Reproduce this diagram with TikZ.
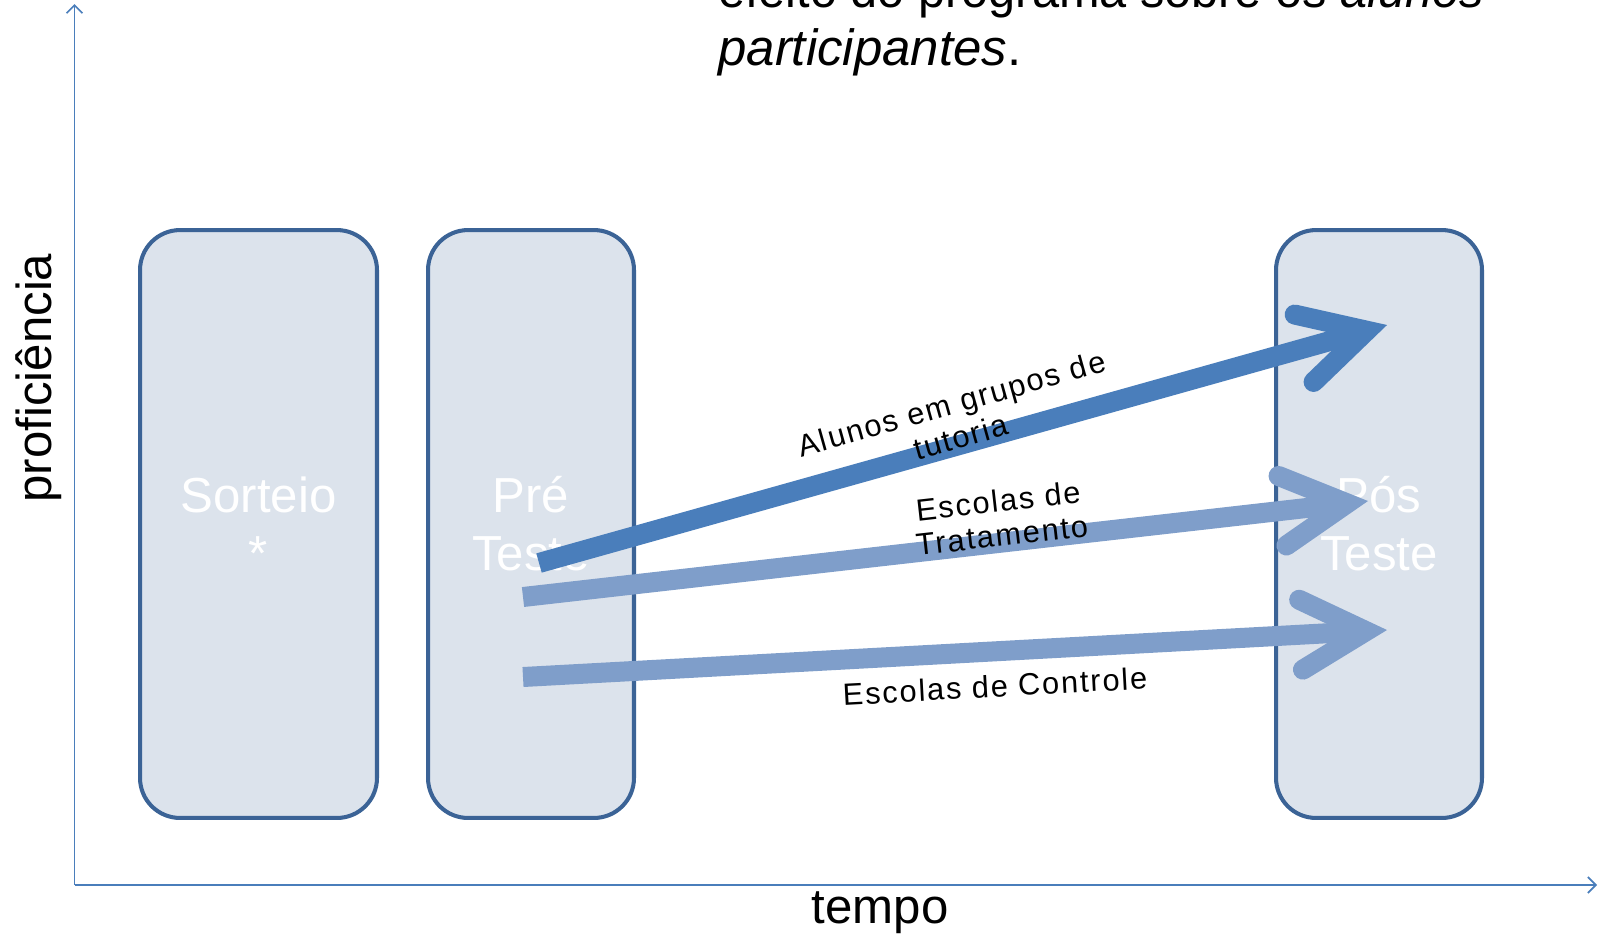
\documentclass[tikz,border=0pt]{standalone}
\usepackage{fontspec}
\setmainfont{Liberation Sans}
\usepackage{tikz}
\usetikzlibrary{arrows.meta}

\definecolor{boxline}{HTML}{3B6396}
\definecolor{boxfill}{HTML}{DCE3EC}
\definecolor{axisblue}{HTML}{4A7EBB}
\definecolor{mainblue}{HTML}{4A7EBB}
\definecolor{hatchblue}{HTML}{7F9ECA}

\begin{document}
\begin{tikzpicture}[x=0.02cm, y=-0.02cm,
    stagebox/.style={draw=boxline, fill=boxfill, line width=2.3pt, rounded corners=0.8cm,
      minimum width=4.12cm, minimum height=11.76cm, inner sep=0pt,
      text=white, align=center, font=\fontsize{28}{33}\selectfont},
    axisline/.style={draw=axisblue, line width=1pt, -{Straight Barb[length=4.5pt, width=9pt]}},
    bigarrow/.style={line width=0.4cm, -{Straight Barb[length=1.3cm, width=1.4cm, line cap=round, line join=miter]}},
    arrowlbl/.style={inner sep=0pt, align=center, font=\fontsize{17.5}{19.5}\selectfont\addfontfeatures{LetterSpace=6}},
    axislbl/.style={inner sep=0pt, font=\fontsize{28}{33}\selectfont},
    toptxt/.style={inner sep=0pt, anchor=base west, font=\fontsize{29}{33}\selectfont}]
    \useasboundingbox (0,0) rectangle (1598,937);

    \coordinate (origin) at (74.5,885);
    \coordinate (ytip) at (74.5,4);
    \coordinate (xtip) at (1597,885);
    \draw[axisline] (origin) -- (ytip);
    \draw[axisline] (origin) -- (xtip);
    \node[axislbl, rotate=90, anchor=base] (ylbl) at (51.7,378) {proficiência};
    \node[axislbl, anchor=base] (xlbl) at (880,923) {tempo};

    \node[toptxt, font=\fontsize{29}{33}\selectfont\addfontfeatures{FakeStretch=0.955}] (titlea) at (718,7) {efeito do programa sobre os \textit{alunos}};
    \node[toptxt] (titleb) at (718,65) {\textit{participantes}.};

    \node[stagebox, minimum width=4.74cm] (sorteio) at (258.5,524) {Sorteio\\*};
    \node[stagebox] (pre) at (531,524) {Pré\\Teste};
    \node[stagebox] (pos) at (1379,524) {Pós\\Teste};

    \coordinate (tratstart) at (523,597);
    \coordinate (tratend) at (1368,501);
    \coordinate (ctrlstart) at (523,677);
    \coordinate (ctrlend) at (1387,630);
    \coordinate (tutstart) at (539,563);
    \coordinate (tutend) at (1387,325);
    \draw[bigarrow, hatchblue] (tratstart) -- (tratend);
    \draw[bigarrow, hatchblue] (ctrlstart) -- (ctrlend);
    \draw[bigarrow, mainblue] (tutstart) -- (tutend);

    \node[arrowlbl, rotate=15.7] (lbltut) at (956,420) {Alunos em grupos de\\tutoria};
    \node[arrowlbl, rotate=6.4] (lbltrat) at (1000,518) {Escolas de\\Tratamento};
    \node[arrowlbl, rotate=3.1] (lblctrl) at (995,686) {Escolas de Controle};
\end{tikzpicture}
\end{document}
